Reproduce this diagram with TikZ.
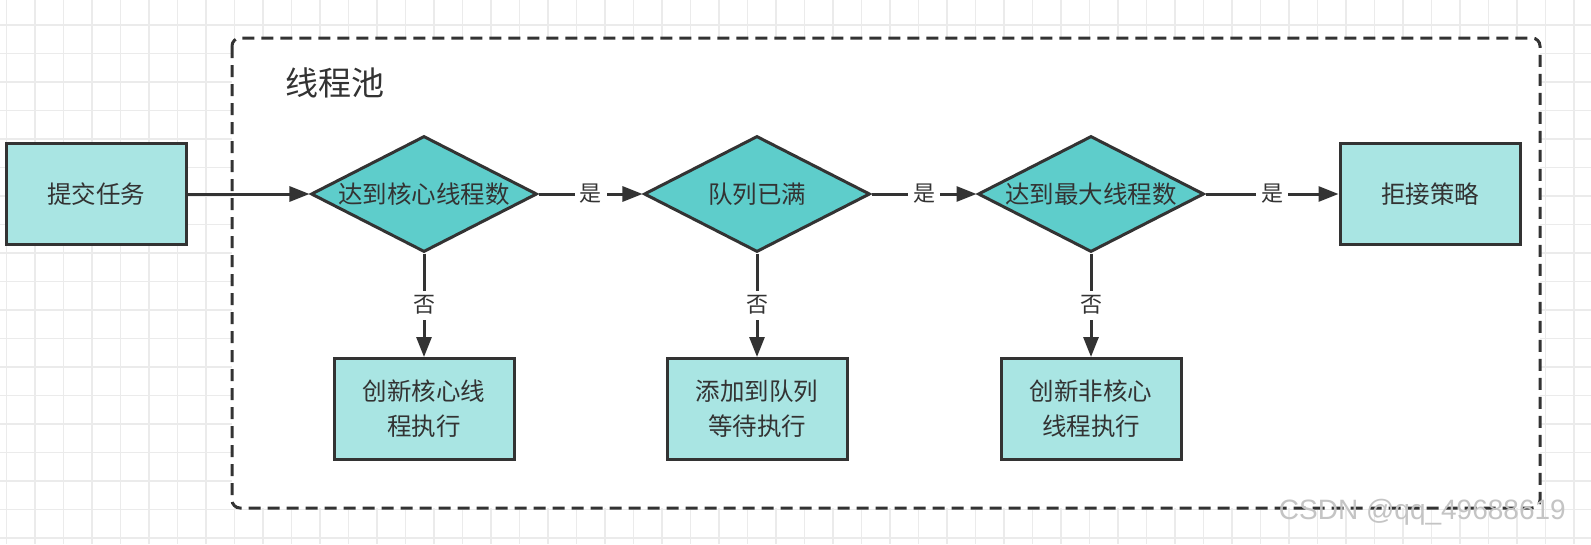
\documentclass[tikz,border=0pt]{standalone}
\usepackage{fontspec}
\setmainfont{Noto Sans CJK SC}
\newfontfamily\wmfont{Liberation Sans}
\usetikzlibrary{shapes.geometric,arrows.meta}
\definecolor{gridc}{HTML}{EBEBEB}
\definecolor{boxfill}{HTML}{A9E5E3}
\definecolor{diafill}{HTML}{5ECDCB}
\definecolor{edge}{HTML}{333333}
\definecolor{txt}{HTML}{333333}
\definecolor{wm}{HTML}{C4C4C4}
\begin{document}
\begin{tikzpicture}[x=1pt,y=-1pt,
  procbox/.style={draw=edge, line width=3pt, fill=boxfill, minimum width=180pt, minimum height=101pt, inner sep=0pt, text=txt, font=\fontsize{24.5}{35}\selectfont, align=center},
  decision/.style={diamond, draw=edge, line width=3pt, fill=diafill, minimum width=226pt, minimum height=116pt, inner sep=0pt, aspect=1.9, text=txt, font=\fontsize{24.5}{28}\selectfont},
  flow/.style={draw=edge, line width=3pt, -{Triangle[length=20pt,width=15pt]}},
  lbl/.style={fill=white, inner sep=5pt, text=txt, font=\fontsize{22}{26}\selectfont},
  pool/.style={draw=edge, line width=3pt, dash pattern=on 12pt off 7pt, rounded corners=8pt, fill=white},
  gridline/.style={draw=gridc, line width=1.3pt}]
\useasboundingbox (0,0) rectangle (1591,544);
\fill[white] (0,0) rectangle (1591,544);
\foreach \x in {6.5,35,...,1591} \draw[gridline] (\x,0) -- (\x,544);
\foreach \y in {-3.5,25,...,544} \draw[gridline] (0,\y) -- (1591,\y);
% container
\draw[pool] (232,38) rectangle (1540,508);
\node[anchor=west, text=txt, font=\fontsize{33}{38}\selectfont, inner sep=0pt] (title) at (285,83) {线程池};
% nodes
\node[procbox] (submit) at (96,194) {提交任务};
\node[decision] (d1) at (424,194) {达到核心线程数};
\node[decision] (d2) at (757,194) {队列已满};
\node[decision] (d3) at (1091,194) {达到最大线程数};
\node[procbox] (reject) at (1430,194) {拒接策略};
\node[procbox] (b1) at (424,409) {创新核心线\\程执行};
\node[procbox] (b2) at (757,409) {添加到队列\\等待执行};
\node[procbox] (b3) at (1091,409) {创新非核心\\线程执行};
% edges
\draw[flow] (submit) -- (d1);
\draw[flow] (d1) -- node[lbl]{是} (d2);
\draw[flow] (d2) -- node[lbl]{是} (d3);
\draw[flow] (d3) -- node[lbl]{是} (reject);
\draw[flow] (d1) -- node[lbl]{否} (b1);
\draw[flow] (d2) -- node[lbl]{否} (b2);
\draw[flow] (d3) -- node[lbl]{否} (b3);
% watermark
\node[anchor=east, text=wm, font=\wmfont\fontsize{28}{32}\selectfont, inner sep=0pt] (mark) at (1566,512) {CSDN @qq\_49688619};
\end{tikzpicture}
\end{document}
